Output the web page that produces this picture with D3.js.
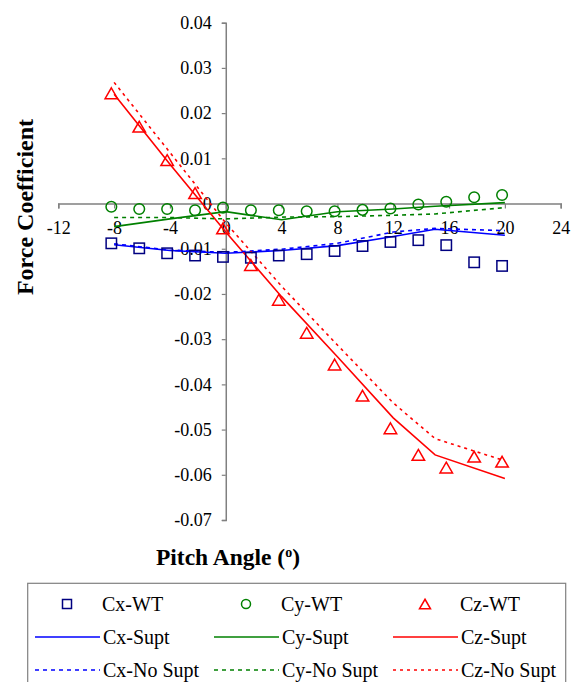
<!DOCTYPE html>
<html>
<head>
<meta charset="utf-8">
<script src="https://cdn.jsdelivr.net/npm/d3@7"></script>
<style>
  body { margin: 0; background: white; }
</style>
</head>
<body>
<div class="chart"></div>
<script>
// wind tunnel measurements
const wtAngles = [-8.2, -6.2, -4.2, -2.2, -0.2, 1.8, 3.8, 5.8, 7.8, 9.8, 11.8, 13.8, 15.8, 17.8, 19.8];
const cxWT = [-0.0088, -0.0099, -0.0110, -0.0115, -0.0118, -0.0120, -0.0115, -0.0112, -0.0105, -0.0094, -0.0085, -0.0081, -0.0092, -0.0130, -0.0138];
const cyWT = [-0.0007, -0.0012, -0.0012, -0.0015, -0.0009, -0.0015, -0.0015, -0.0017, -0.0017, -0.0014, -0.0011, -0.0002, 0.0004, 0.0014, 0.0019];
const czWT = [0.0244, 0.0170, 0.0096, 0.0023, -0.0055, -0.0136, -0.0213, -0.0286, -0.0356, -0.0425, -0.0497, -0.0556, -0.0584, -0.0560, -0.0571];

// computed, with / without support
const cfdAngles = [-8, -4, 0, 4, 8, 12, 15, 20];
const cxSupt = [-0.0091, -0.0104, -0.0110, -0.0104, -0.0093, -0.0073, -0.0057, -0.0070];
const cySupt = [-0.0051, -0.0034, -0.0018, -0.0036, -0.0018, -0.0012, -0.0006, 0.0002];
const czSupt = [0.0242, 0.0087, -0.0063, -0.0206, -0.0339, -0.0474, -0.0556, -0.0608];
const cxNoSupt = [-0.0089, -0.0103, -0.0108, -0.0101, -0.0088, -0.0063, -0.0055, -0.0060];
const cyNoSupt = [-0.0031, -0.0031, -0.0034, -0.0030, -0.0029, -0.0026, -0.0023, -0.0009];
const czNoSupt = [0.0268, 0.0113, -0.0043, -0.0183, -0.0313, -0.0441, -0.0520, -0.0569];

const xTicks = [-12, -8, -4, 0, 4, 8, 12, 16, 20, 24];
const yTicks = [0.04, 0.03, 0.02, 0.01, 0, -0.01, -0.02, -0.03, -0.04, -0.05, -0.06, -0.07];

const width = 577, height = 682;
const serif = "'Liberation Serif', 'Times New Roman', Times, serif";
const svg = d3.select(".chart").append("svg")
    .attr("width", width)
    .attr("height", height);

const x = d3.scaleLinear().domain([-12, 24]).range([58.3, 560.7]);
const y = d3.scaleLinear().domain([0.04, -0.07]).range([22.7, 520]);

const axisColor = "#808080";

// x axis sits at y = 0, y axis at x = 0
const xAxis = d3.axisBottom(x).tickValues(xTicks).tickSize(5).tickPadding(13)
    .tickFormat(d => String(d));
svg.append("g")
    .attr("transform", `translate(0,${y(0)})`)
    .call(xAxis)
    .call(g => g.select(".domain").attr("stroke", axisColor).attr("stroke-width", 1.5))
    .call(g => g.selectAll(".tick line").attr("stroke", axisColor).attr("stroke-width", 1.2))
    .call(g => g.selectAll(".tick text").style("font-size", "18px"));

const yAxis = d3.axisLeft(y).tickValues(yTicks).tickSize(4).tickPadding(10)
    .tickFormat(d => d === 0 ? "0" : d.toFixed(2));
svg.append("g")
    .attr("transform", `translate(${x(0)},0)`)
    .call(yAxis)
    .call(g => g.select(".domain").attr("stroke", axisColor).attr("stroke-width", 1.5))
    .call(g => g.selectAll(".tick line").attr("stroke", axisColor).attr("stroke-width", 1.2))
    .call(g => g.selectAll(".tick text").style("font-size", "18px"));

// axis titles
svg.append("text")
    .attr("transform", "translate(33,207) rotate(-90)")
    .attr("text-anchor", "middle")
    .style("font-size", "24px")
    .style("font-weight", "bold")
    .text("Force  Coefficient");

const xTitle = svg.append("text")
    .attr("x", 228)
    .attr("y", 565)
    .attr("text-anchor", "middle")
    .style("font-size", "23.5px")
    .style("font-weight", "bold");
xTitle.append("tspan").text("Pitch Angle (");
xTitle.append("tspan").attr("dy", -8).style("font-size", "14px").text("o");
xTitle.append("tspan").attr("dy", 8).text(")");

// lines
const series = [
    { name: "Cx-Supt", values: cxSupt, color: "#0000FF", dash: null },
    { name: "Cy-Supt", values: cySupt, color: "#008000", dash: null },
    { name: "Cz-Supt", values: czSupt, color: "#FF0000", dash: null },
    { name: "Cx-No Supt", values: cxNoSupt, color: "#0000FF", dash: "4,4" },
    { name: "Cy-No Supt", values: cyNoSupt, color: "#008000", dash: "4,4" },
    { name: "Cz-No Supt", values: czNoSupt, color: "#FF0000", dash: "3,4" }
];

const line = d3.line()
    .x(d => x(d[0]))
    .y(d => y(d[1]));

series.forEach(s => {
    svg.append("path")
        .attr("d", line(cfdAngles.map((a, i) => [a, s.values[i]])))
        .attr("fill", "none")
        .attr("stroke", s.color)
        .attr("stroke-width", 1.6)
        .attr("stroke-dasharray", s.dash);
});

// markers
function triPath(cx, cy, w, h) {
    return `M${cx},${cy - h / 2}L${cx + w / 2},${cy + h / 2}L${cx - w / 2},${cy + h / 2}Z`;
}

svg.selectAll(".sq").data(wtAngles.map((a, i) => [a, cxWT[i]]))
    .enter().append("rect")
    .attr("x", d => x(d[0]) - 5.2)
    .attr("y", d => y(d[1]) - 5.2)
    .attr("width", 10.4).attr("height", 10.4)
    .attr("fill", "none").attr("stroke", "#000080").attr("stroke-width", 1.5);

svg.selectAll(".ci").data(wtAngles.map((a, i) => [a, cyWT[i]]))
    .enter().append("circle")
    .attr("cx", d => x(d[0]))
    .attr("cy", d => y(d[1]))
    .attr("r", 5.3)
    .attr("fill", "none").attr("stroke", "#008000").attr("stroke-width", 1.5);

svg.selectAll(".tr").data(wtAngles.map((a, i) => [a, czWT[i]]))
    .enter().append("path")
    .attr("d", d => triPath(x(d[0]), y(d[1]), 12.5, 10.8))
    .attr("fill", "none").attr("stroke", "#FF0000").attr("stroke-width", 1.5);

// legend
const legend = svg.append("g");
legend.append("rect")
    .attr("x", 27.7).attr("y", 583.3)
    .attr("width", 538).attr("height", 110)
    .attr("fill", "white").attr("stroke", "#808080").attr("stroke-width", 1.2);

const colX = [35, 214, 393];
const rowY = [604, 637, 670];
const wtItems = [
    { name: "Cx-WT", color: "#000080", shape: "sq" },
    { name: "Cy-WT", color: "#008000", shape: "ci" },
    { name: "Cz-WT", color: "#FF0000", shape: "tr" }
];

wtItems.forEach((it, i) => {
    const cx = colX[i] + 32, cy = rowY[0];
    if (it.shape === "sq") {
        legend.append("rect").attr("x", cx - 4.5).attr("y", cy - 4.5).attr("width", 9).attr("height", 9)
            .attr("fill", "none").attr("stroke", it.color).attr("stroke-width", 1.5);
    } else if (it.shape === "ci") {
        legend.append("circle").attr("cx", cx).attr("cy", cy).attr("r", 4.5)
            .attr("fill", "none").attr("stroke", it.color).attr("stroke-width", 1.5);
    } else {
        legend.append("path").attr("d", triPath(cx, cy, 11, 9.5))
            .attr("fill", "none").attr("stroke", it.color).attr("stroke-width", 1.5);
    }
    legend.append("text")
        .attr("x", colX[i] + 67).attr("y", cy + 7)
        .style("font-size", "20px")
        .text(it.name);
});

series.forEach((s, i) => {
    const col = i % 3, row = 1 + Math.floor(i / 3);
    legend.append("line")
        .attr("x1", colX[col]).attr("x2", colX[col] + 65)
        .attr("y1", rowY[row]).attr("y2", rowY[row])
        .attr("stroke", s.color).attr("stroke-width", 1.6)
        .attr("stroke-dasharray", s.dash);
    legend.append("text")
        .attr("x", colX[col] + 68).attr("y", rowY[row] + 7)
        .style("font-size", "20px")
        .text(s.name);
});

// every label in Times-like serif
svg.selectAll("text")
    .style("font-family", serif)
    .attr("fill", "black");
</script>
</body>
</html>
